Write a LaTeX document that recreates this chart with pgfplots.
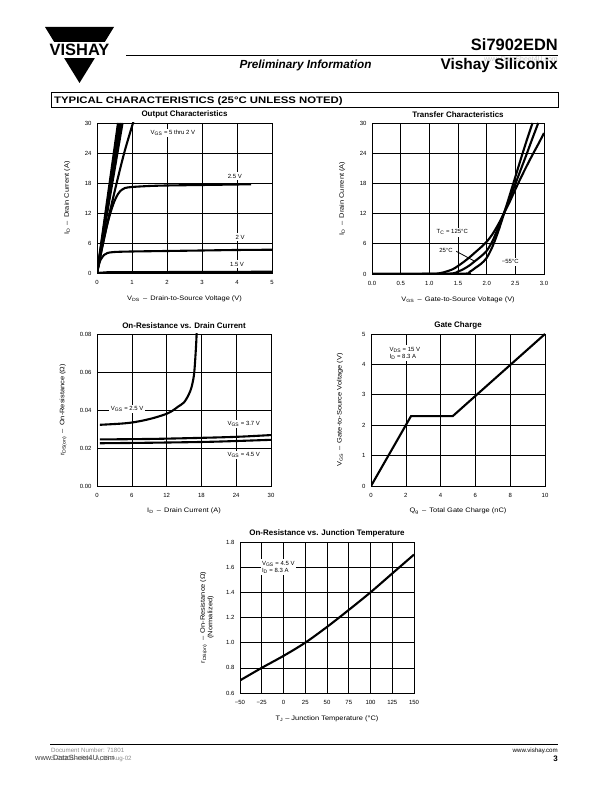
\documentclass[border=0pt]{standalone}
\usepackage{fontspec}
\setmainfont{Liberation Sans}
\newfontfamily\widefont[FakeStretch=1.2]{Liberation Sans}
\newfontfamily\lblfont[FakeStretch=1.15]{Liberation Sans}
\usepackage{graphicx}
\usepackage{pgfplots}
\pgfplotsset{compat=1.18}

\pgfplotsset{
  dsheet/.style={
    scale only axis,
    anchor=south west,
    axis line style={line width=0.9bp},
    grid=major,
    major grid style={black, line width=0.6bp},
    tick style={draw=none},
    ticklabel style={font=\fontsize{6}{7}\selectfont},
    /pgf/number format/assume math mode=true,
    xticklabel style={yshift=-4bp},
    yticklabel style={xshift=-2bp},
    label style={font=\lblfont\fontsize{6.5}{7.5}\selectfont},
    title style={font=\bfseries\fontsize{8}{9}\selectfont, inner sep=0pt, yshift=-1bp},
    scaled ticks=false,
    cycle list={{black, solid, no marks}},
    every axis plot/.append style={line width=2.1bp, black, solid, no marks, smooth},
  },
}
\tikzset{note/.style={fill=white, inner sep=1.5bp, font=\fontsize{6}{7}\selectfont}}

\begin{document}
\begin{tikzpicture}[x=1bp,y=1bp]
\path[use as bounding box] (0,0) rectangle (612,792);

% header
\fill (45,765) -- (114,765) -- (79.5,709) -- cycle;
\fill[white] (40,750) rectangle (118,734);
\node[font=\bfseries\fontsize{16.5}{16.5}\selectfont, inner sep=0, anchor=base] at (79.5,736.3) {VISHAY};
\node[anchor=base east, inner sep=0, font=\bfseries\fontsize{16.5}{16.5}\selectfont] at (558,741) {Si7902EDN};
\draw[line width=0.9bp] (126,736.5) -- (558,736.5);
\node[anchor=base, inner sep=0, font=\bfseries\itshape\fontsize{11.8}{11.8}\selectfont] at (305.5,723.5) {Preliminary Information};
\node[anchor=base east, inner sep=0, text=black!22, font=\fontsize{7}{7}\selectfont] at (558,730) {www.DataSheet4U.com};
\node[anchor=base east, inner sep=0, font=\bfseries\fontsize{15.5}{15.5}\selectfont] at (558,722) {Vishay Siliconix};
\draw[line width=0.8bp] (51,684.5) rectangle (558,699.5);
\node[anchor=base west, inner sep=0, font=\widefont\bfseries\fontsize{9.5}{9.5}\selectfont] at (54,688) {TYPICAL CHARACTERISTICS (25°C UNLESS NOTED)};

% footer
\draw[line width=0.9bp] (50,48) -- (558,48);
\node[anchor=base west, inner sep=0, text=black!45, font=\fontsize{6.2}{6.2}\selectfont] at (51,39) {Document Number: 71801};
\node[anchor=base west, inner sep=0, text=black!45, font=\fontsize{6.2}{6.2}\selectfont] at (51,31) {S-21331—Rev. A, 05-Aug-02};
\node[anchor=base west, inner sep=0, text=black!75, font=\fontsize{7.5}{7.5}\selectfont] at (35,31) {www.DataSheet4U.com};
\node[anchor=base east, inner sep=0, font=\fontsize{6.2}{6.2}\selectfont] at (558,39) {www.vishay.com};
\node[anchor=base east, inner sep=0, font=\bfseries\fontsize{8}{8}\selectfont] at (558,30) {3};

% Output Characteristics
\begin{axis}[dsheet, at={(97bp,519bp)}, width=175bp, height=150bp,
  xmin=0, xmax=5, ymin=0, ymax=30,
  xtick={0,1,2,3,4,5}, ytick={0,6,12,18,24,30},
  title={Output Characteristics},
  xlabel={V\textsubscript{DS}\enspace–\enspace Drain-to-Source Voltage (V)},
  ylabel={I\textsubscript{D}\enspace–\enspace Drain Current (A)},
  xlabel style={at={(axis description cs:0.5,-0.173)}, anchor=center},
  ylabel style={at={(axis description cs:-0.171,0.5)}, anchor=center},
]
\addplot[sharp plot] coordinates {(0,0)(0.60,30)};
\addplot[sharp plot] coordinates {(0,0)(0.64,30)};
\addplot[sharp plot] coordinates {(0,0)(0.68,30)};
\addplot[sharp plot] coordinates {(0,0)(0.73,30)};
\addplot coordinates {(0,0)(0.2,6.8)(0.4,13.2)(0.6,19.1)(0.8,24.6)(1.05,30.5)};
\addplot coordinates {(0,0)(0.1,3.6)(0.2,6.9)(0.3,9.9)(0.4,12.4)(0.5,14.4)(0.6,15.8)(0.7,16.6)(0.8,17.0)(1.0,17.2)(1.5,17.4)(2,17.5)(3,17.6)(4,17.7)(4.4,17.75)};
\addplot coordinates {(0,0)(0.05,1.5)(0.1,2.6)(0.2,3.6)(0.3,4.0)(0.5,4.2)(1,4.3)(2,4.4)(3,4.5)(4,4.6)(5,4.65)};
\addplot[sharp plot] coordinates {(0,0)(0.3,0.15)(5,0.25)};
\node[note] at (axis cs:2.17,28) {V\textsubscript{GS} = 5 thru 2 V};
\node[note] at (axis cs:3.94,19.4) {2.5 V};
\node[note] at (axis cs:4.09,7.2) {2 V};
\node[note] at (axis cs:4.0,1.8) {1.5 V};
\end{axis}

% Transfer Characteristics
\begin{axis}[dsheet, at={(372bp,518bp)}, width=172bp, height=151bp,
  xmin=0, xmax=3, ymin=0, ymax=30,
  xtick={0,0.5,1,1.5,2,2.5,3}, ytick={0,6,12,18,24,30},
  xticklabel style={/pgf/number format/.cd, fixed, fixed zerofill, precision=1},
  title={Transfer Characteristics},
  xlabel={V\textsubscript{GS}\enspace–\enspace Gate-to-Source Voltage (V)},
  ylabel={I\textsubscript{D}\enspace–\enspace Drain Current (A)},
  xlabel style={at={(axis description cs:0.5,-0.172)}, anchor=center},
  ylabel style={at={(axis description cs:-0.174,0.5)}, anchor=center},
]
\addplot coordinates {(0,0)(1.0,0.05)(1.2,0.2)(1.4,0.9)(1.5,1.6)(1.6,2.4)(1.7,3.3)(1.8,4.3)(1.9,5.3)(2.0,6.4)(2.1,7.9)(2.2,9.8)(2.3,12)(2.4,14.3)(2.5,16.8)(2.6,19.2)(2.7,21.5)(2.8,23.7)(2.9,25.8)(3.0,28)};
\addplot coordinates {(0,0)(1.3,0.05)(1.5,0.5)(1.6,1.0)(1.7,1.7)(1.8,2.6)(1.9,3.5)(2.0,4.6)(2.1,6.5)(2.2,9.2)(2.3,12.1)(2.4,15)(2.5,17.9)(2.6,20.9)(2.7,23.9)(2.8,27)(2.9,30)};
\addplot coordinates {(0,0)(1.55,0.05)(1.7,0.4)(1.8,1.2)(1.9,2.0)(2.0,3.2)(2.1,5.4)(2.2,8.4)(2.3,11.9)(2.4,15.6)(2.5,19.3)(2.6,23)(2.7,26.6)(2.8,30)};
\node[note] at (axis cs:1.40,8.3) {T\textsubscript{C} = 125°C};
\node[note] at (axis cs:1.29,4.6) {25°C};
\draw[line width=0.8bp] (axis cs:1.47,4.5) -- (axis cs:1.78,2.6);
\node[note] at (axis cs:2.41,2.4) {−55°C};
\end{axis}

% On-Resistance vs. Drain Current
\begin{axis}[dsheet, at={(97bp,306bp)}, width=174bp, height=152bp,
  xmin=0, xmax=30, ymin=0, ymax=0.08,
  xtick={0,6,12,18,24,30}, ytick={0,0.02,0.04,0.06,0.08},
  yticklabel style={/pgf/number format/.cd, fixed, fixed zerofill, precision=2},
  title={On-Resistance vs. Drain Current},
  xlabel={I\textsubscript{D}\enspace–\enspace Drain Current (A)},
  ylabel={r\textsubscript{DS(on)}\enspace–\enspace On-Resistance (Ω)},
  xlabel style={at={(axis description cs:0.5,-0.164)}, anchor=center},
  ylabel style={at={(axis description cs:-0.195,0.5)}, anchor=center},
]
\addplot coordinates {(0.5,0.0322)(4,0.0328)(6,0.0334)(8,0.0345)(10,0.0360)(12,0.0380)(13,0.0396)(14,0.0418)(15,0.0440)(15.8,0.048)(16.3,0.052)(16.7,0.058)(16.9,0.065)(17.1,0.075)(17.2,0.082)};
\addplot coordinates {(0.5,0.0245)(10,0.0248)(20,0.0255)(25,0.026)(30,0.0268)};
\addplot coordinates {(0.5,0.0225)(10,0.0228)(20,0.0233)(30,0.0243)};
\node[note] at (axis cs:5.2,0.0405) {V\textsubscript{GS} = 2.5 V};
\node[note] at (axis cs:25.3,0.0326) {V\textsubscript{GS} = 3.7 V};
\node[note] at (axis cs:25.3,0.0163) {V\textsubscript{GS} = 4.5 V};
\end{axis}

% Gate Charge
\begin{axis}[dsheet, at={(371bp,306bp)}, width=174bp, height=152bp,
  xmin=0, xmax=10, ymin=0, ymax=5,
  xtick={0,2,4,6,8,10}, ytick={0,1,2,3,4,5},
  title={Gate Charge},
  xlabel={Q\textsubscript{g}\enspace–\enspace Total Gate Charge (nC)},
  ylabel={V\textsubscript{GS}\enspace–\enspace Gate-to-Source Voltage (V)},
  xlabel style={at={(axis description cs:0.5,-0.164)}, anchor=center},
  ylabel style={at={(axis description cs:-0.178,0.5)}, anchor=center},
]
\addplot[sharp plot] coordinates {(0,0)(2.3,2.3)(4.7,2.3)(10,5.0)};
\node[note, align=left] at (axis cs:1.95,4.37) {V\textsubscript{DS} = 15 V\\I\textsubscript{D} = 8.3 A};
\end{axis}

% On-Resistance vs. Junction Temperature
\begin{axis}[dsheet, at={(240bp,99bp)}, width=174bp, height=151bp,
  xmin=-50, xmax=150, ymin=0.6, ymax=1.8,
  xtick={-50,-25,0,25,50,75,100,125,150},
  xticklabels={−50,−25,0,25,50,75,100,125,150},
  ytick={0.6,0.8,1.0,1.2,1.4,1.6,1.8},
  yticklabel style={/pgf/number format/.cd, fixed, fixed zerofill, precision=1},
  title={On-Resistance vs. Junction Temperature},
  xlabel={T\textsubscript{J} – Junction Temperature (°C)},
  ylabel={r\textsubscript{DS(on)}\enspace–\enspace On-Resistance (Ω)\\(Normalized)},
  xlabel style={at={(axis description cs:0.5,-0.172)}, anchor=center},
  ylabel style={at={(axis description cs:-0.19,0.5)}, anchor=center, align=center},
]
\addplot coordinates {(-50,0.70)(-25,0.80)(0,0.895)(25,1.0)(50,1.125)(75,1.26)(100,1.40)(125,1.55)(150,1.70)};
\node[note, align=left] at (axis cs:-6,1.60) {V\textsubscript{GS} = 4.5 V\\I\textsubscript{D} = 8.3 A};
\end{axis}

\end{tikzpicture}
\end{document}
